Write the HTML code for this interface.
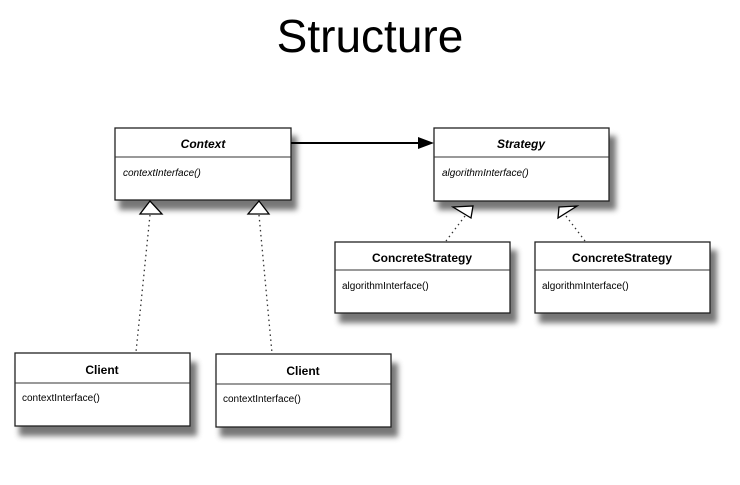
<!DOCTYPE html>
<html><head><meta charset="utf-8"><style>
body{margin:0;background:#fff;width:740px;height:480px;overflow:hidden;font-family:"Liberation Sans",Arial,sans-serif}
</style></head><body>
<svg width="740" height="480" xmlns="http://www.w3.org/2000/svg">
<defs>
<filter id="sh" x="-10%" y="-10%" width="130%" height="140%"><feGaussianBlur stdDeviation="3"/></filter>
</defs>
<text x="370" y="52" font-size="46" text-anchor="middle" font-family="Liberation Sans, Arial, sans-serif" fill="#000">Structure</text>
<g fill="#555" filter="url(#sh)" opacity="0.8">
<rect x="119" y="136" width="178" height="74"/>
<rect x="438" y="136" width="178" height="74"/>
<rect x="339" y="250" width="178" height="73"/>
<rect x="539" y="250" width="178" height="73"/>
<rect x="19" y="362" width="178" height="74"/>
<rect x="220" y="363" width="178" height="74"/>
</g>
<g fill="#fff" stroke="#222" stroke-width="1.3">
<rect x="115" y="128" width="176" height="72"/>
<rect x="434" y="128" width="175" height="73"/>
<rect x="335" y="242" width="175" height="71"/>
<rect x="535" y="242" width="175" height="71"/>
<rect x="15" y="353" width="175" height="73"/>
<rect x="216" y="354" width="175" height="73"/>
</g>
<g stroke="#333" stroke-width="1">
<line x1="115" y1="157" x2="291" y2="157"/>
<line x1="434" y1="157" x2="609" y2="157"/>
<line x1="335" y1="270" x2="510" y2="270"/>
<line x1="535" y1="270" x2="710" y2="270"/>
<line x1="15" y1="383" x2="190" y2="383"/>
<line x1="216" y1="384" x2="391" y2="384"/>
</g>
<line x1="291" y1="143" x2="420" y2="143" stroke="#000" stroke-width="2"/>
<polygon points="434,143 418,137 418,149" fill="#000"/>
<g stroke="#333" stroke-width="1.3" stroke-dasharray="1.5,3.5" fill="none">
<line x1="150" y1="215" x2="136" y2="352"/>
<line x1="259" y1="215" x2="272" y2="353"/>
<line x1="465" y1="216" x2="446" y2="241"/>
<line x1="566" y1="216" x2="585" y2="241"/>
</g>
<g fill="#fff" stroke="#000" stroke-width="1.3">
<polygon points="150,201 140,214 162,214"/>
<polygon points="259,201 248,214 269,214"/>
<polygon points="453,207 473,206 471,218"/>
<polygon points="559,207 577,206 558,218"/>
</g>
<g font-size="12" font-weight="bold" text-anchor="middle" fill="#000">
<text x="203" y="148" font-style="italic">Context</text>
<text x="521" y="148" font-style="italic">Strategy</text>
<text x="422" y="262">ConcreteStrategy</text>
<text x="622" y="262">ConcreteStrategy</text>
<text x="102" y="374">Client</text>
<text x="303" y="375">Client</text>
</g>
<g font-size="10" fill="#000">
<text x="123" y="176" font-style="italic">contextInterface()</text>
<text x="442" y="176" font-style="italic">algorithmInterface()</text>
<text x="342" y="289">algorithmInterface()</text>
<text x="542" y="289">algorithmInterface()</text>
<text x="22" y="401">contextInterface()</text>
<text x="223" y="402">contextInterface()</text>
</g>
</svg>
</body></html>
